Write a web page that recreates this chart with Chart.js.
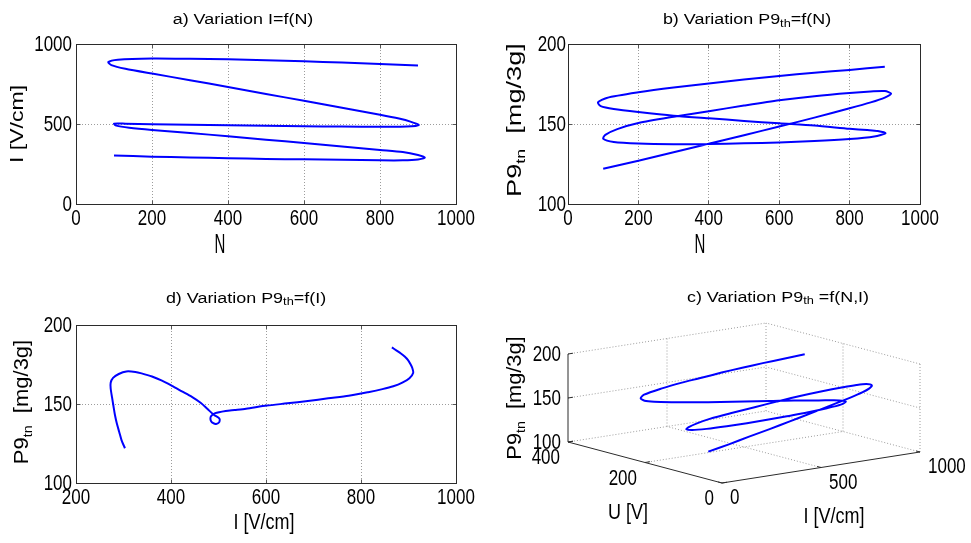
<!DOCTYPE html>
<html>
<head>
<meta charset="utf-8">
<script src="https://cdn.jsdelivr.net/npm/chart.js@4.4.1/dist/chart.umd.min.js"></script>
<style>
  html, body { margin: 0; padding: 0; background: #fff; }
  #wrap { position: relative; width: 971px; height: 543px; overflow: hidden; }
  canvas { position: absolute; }
</style>
</head>
<body>
<div id="wrap">
  <canvas id="chartA" width="485" height="265" style="left:0;top:0"></canvas>
  <canvas id="chartB" width="486" height="265" style="left:485px;top:0"></canvas>
  <canvas id="chartD" width="485" height="273" style="left:0;top:270px"></canvas>
  <canvas id="chartC" width="486" height="273" style="left:485px;top:270px"></canvas>
</div>
<script>
const N = [100, 200, 300, 400, 500, 600, 700, 800, 860, 900, 918, 900,
  860, 800, 700, 600, 500, 400, 300, 200, 140, 106, 100,
  130, 200, 300, 400, 500, 600, 700, 800, 870, 902,
  880, 850, 800, 700, 600, 500, 400, 300, 200, 130, 93, 85,
  110, 200, 300, 400, 500, 600, 700, 800, 900];
const I = [303, 296, 291, 286, 282, 279, 276, 273, 273, 278, 290, 306,
  325, 338, 360, 381, 402, 423, 444, 463, 477, 490, 502,
  502, 499, 495, 492, 489, 486, 484, 483, 484, 493,
  515, 534, 558, 602, 645, 688, 731, 774, 815, 845, 868, 887,
  902, 910, 908, 904, 899, 892, 884, 875, 865];
const P9 = [122, 127, 132.3, 137.6, 143, 148.4, 154, 159.8, 163.5, 166.5, 169, 170.6,
  170.3, 169.4, 167.4, 164.8, 161.5, 158, 154.5, 150.6, 146.8, 143.2, 140.8,
  138.8, 137.8, 137.4, 137.5, 137.9, 138.5, 139.3, 140.6, 142.2, 144.2,
  145.6, 146.2, 147, 149, 150.4, 151.9, 153.6, 155.2, 157.5, 159.4, 161.2, 163.5,
  166.3, 169.8, 172.8, 175.3, 177.8, 180, 182, 183.8, 185.8];
// depth coordinate of the 3D view
const U = [87, 85, 84, 82, 81, 80, 79, 78, 78, 80, 83, 88,
  93, 97, 103, 109, 115, 121, 127, 133, 137, 141, 144,
  144, 143, 142, 141, 140, 140, 139, 139, 139, 142,
  148, 153, 160, 173, 185, 198, 210, 222, 234, 243, 249, 255,
  259, 261, 261, 259, 258, 256, 254, 251, 248];

const nTicks = [0, 200, 400, 600, 800, 1000];
const iTicksA = [0, 500, 1000];
const pTicks = [100, 150, 200];
const iTicksD = [200, 400, 600, 800, 1000];
const iTicks3 = [0, 500, 1000];
const uTicks3 = [0, 200, 400];
const pTicks3 = [100, 150, 200];

const BLUE = '#0000ff';
const FAMILY = '"Liberation Sans", Arial, sans-serif';
const TICK_FONT = '17px ' + FAMILY;
const TICK_SY = 1.3;   // tick numbers are drawn tall and narrow in the original

function align(p) { return Math.round(p - 0.5) + 0.5; }

function tickText(ctx, txt, x, y, textAlign) {
  ctx.save();
  ctx.translate(x, y);
  ctx.scale(1, TICK_SY);
  ctx.font = TICK_FONT;
  ctx.fillStyle = '#000';
  ctx.textAlign = textAlign;
  ctx.textBaseline = 'middle';
  ctx.fillText(txt, 0, 0);
  ctx.restore();
}

// matlab style box with inward tick marks and tick numbers
function boxPlugin(yPad) {
  return {
    id: 'matlabBox',
    afterDraw(chart) {
      const { ctx, chartArea: a, scales } = chart;
      const L = align(a.left), R = align(a.right), T = align(a.top), B = align(a.bottom);
      ctx.save();
      ctx.setLineDash([]);
      ctx.lineWidth = 1;
      ctx.strokeStyle = '#555';
      ctx.beginPath();
      scales.x.ticks.forEach(t => {
        const x = align(scales.x.getPixelForValue(t.value));
        ctx.moveTo(x, B); ctx.lineTo(x, B - 4);
        ctx.moveTo(x, T); ctx.lineTo(x, T + 4);
      });
      scales.y.ticks.forEach(t => {
        const y = align(scales.y.getPixelForValue(t.value));
        ctx.moveTo(L, y); ctx.lineTo(L + 4, y);
        ctx.moveTo(R, y); ctx.lineTo(R - 4, y);
      });
      ctx.stroke();
      ctx.strokeStyle = '#2b2b2b';
      ctx.strokeRect(L, T, R - L, B - T);
      ctx.restore();
      scales.x.ticks.forEach(t => tickText(ctx, String(t.value), scales.x.getPixelForValue(t.value), a.bottom + 15, 'center'));
      scales.y.ticks.forEach(t => tickText(ctx, String(t.value), a.left - yPad, scales.y.getPixelForValue(t.value) + 1, 'right'));
    }
  };
}

function drawLabel(ctx, it) {
  ctx.save();
  ctx.translate(it.x, it.y);
  if (it.rot) ctx.rotate(it.rot);
  ctx.scale(it.sx || 1, it.sy || 1);
  ctx.fillStyle = '#000';
  ctx.textBaseline = 'alphabetic';
  ctx.textAlign = 'left';
  let w = 0;
  const widths = it.runs.map(r => {
    ctx.font = r[1] + 'px ' + FAMILY;
    const m = ctx.measureText(r[0]).width;
    w += m;
    return m;
  });
  let x = -w / 2;
  it.runs.forEach((r, k) => {
    ctx.font = r[1] + 'px ' + FAMILY;
    ctx.fillText(r[0], x, r[2] || 0);
    x += widths[k];
  });
  ctx.restore();
}

function textPlugin(items) {
  return {
    id: 'texts',
    afterDraw(chart) { items.forEach(it => drawLabel(chart.ctx, it)); }
  };
}

function axis(ticks, fit) {
  return {
    type: 'linear',
    min: ticks[0],
    max: ticks[ticks.length - 1],
    afterBuildTicks: s => { s.ticks = ticks.map(v => ({ value: v })); },
    afterFit: fit,
    ticks: { display: false, autoSkip: false },
    grid: { color: '#9c9c9c', lineWidth: 1, drawTicks: false },
    border: { display: false, dash: [1, 2] }
  };
}

// box = canvas [x, y, w, h], area = plot [left, top, right, bottom] in page px
function panel(id, box, area, xs, ys, xTicks, yTicks, yPad, labels) {
  const pts = xs.map((v, k) => ({ x: v, y: ys[k] }));
  return new Chart(document.getElementById(id), {
    type: 'scatter',
    data: {
      datasets: [{
        data: pts, showLine: true, pointRadius: 0,
        borderColor: BLUE, borderWidth: 2, tension: 0.25
      }]
    },
    options: {
      responsive: false, animation: false, devicePixelRatio: 1, events: [],
      layout: { padding: { left: 0, bottom: 0, top: area[1] - box[1], right: box[0] + box[2] - area[2] } },
      plugins: { legend: { display: false }, tooltip: { enabled: false } },
      scales: {
        x: axis(xTicks, s => { s.height = box[1] + box[3] - area[3]; s.paddingLeft = 0; s.paddingRight = 0; }),
        y: axis(yTicks, s => { s.width = area[0] - box[0]; s.paddingTop = 0; s.paddingBottom = 0; })
      }
    },
    plugins: [boxPlugin(yPad), textPlugin(labels)]
  });
}

const UP = -Math.PI / 2;
const p9Label = (x, y, sx) => ({ runs: [['P9', 20], ['tn', 13, 4], ['  [mg/3g]', 20]], x, y, rot: UP, sx });

panel('chartA', [0, 0, 485, 265], [76, 44, 456, 204], N, I, nTicks, iTicksA, 4, [
  { runs: [['a) Variation I=f(N)', 14]], x: 243, y: 24, sx: 1.28 },
  { runs: [['N', 20]], x: 220, y: 252.5, sx: 0.75, sy: 1.35 },
  { runs: [['I [V/cm]', 18]], x: 23, y: 124, rot: UP, sx: 1.28 }
]);

panel('chartB', [485, 0, 486, 265], [568, 44, 920, 204], N, P9, nTicks, pTicks, 2, [
  { runs: [['b) Variation P9', 14], ['th', 10, 2.5], ['=f(N)', 14]], x: 262, y: 24, sx: 1.28 },
  { runs: [['N', 20]], x: 215, y: 252.5, sx: 0.75, sy: 1.35 },
  p9Label(36, 120, 1.36)
]);

panel('chartD', [0, 270, 485, 273], [76, 325, 456, 483], I, P9, iTicksD, pTicks, 4, [
  { runs: [['d) Variation P9', 14], ['th', 10, 2.5], ['=f(I)', 14]], x: 246, y: 32.7, sx: 1.28 },
  { runs: [['I [V/cm]', 18]], x: 264, y: 258.5, sy: 1.2 },
  p9Label(28, 132, 1.1)
]);

// 3D view: pixel vectors of the full I, U and P9 ranges from the front corner
const V3 = { o: [237, 213], i: [198, -31], u: [-154, -41], z: [0, -88] };
const R3 = { i: [iTicks3[0], iTicks3[iTicks3.length - 1]], u: [uTicks3[0], uTicks3[uTicks3.length - 1]], z: [pTicks3[0], pTicks3[pTicks3.length - 1]] };
function proj(i, u, z) {
  const fi = (i - R3.i[0]) / (R3.i[1] - R3.i[0]);
  const fu = (u - R3.u[0]) / (R3.u[1] - R3.u[0]);
  const fz = (z - R3.z[0]) / (R3.z[1] - R3.z[0]);
  return {
    x: V3.o[0] + fi * V3.i[0] + fu * V3.u[0] + fz * V3.z[0],
    y: V3.o[1] + fi * V3.i[1] + fu * V3.u[1] + fz * V3.z[1]
  };
}

const cubePlugin = {
  id: 'cube',
  beforeDatasetsDraw(chart) {
    const { ctx, scales } = chart;
    const px = p => [scales.x.getPixelForValue(p.x), scales.y.getPixelForValue(p.y)];
    const seg = (a, b) => {
      const p = px(proj(...a)), q = px(proj(...b));
      ctx.moveTo(p[0], p[1]); ctx.lineTo(q[0], q[1]);
    };
    const [i0, i1] = R3.i, [u0, u1] = R3.u, [z0, z1] = R3.z;
    ctx.save();
    ctx.lineWidth = 1;
    ctx.strokeStyle = '#9c9c9c';
    ctx.setLineDash([1, 2]);
    ctx.beginPath();
    iTicks3.slice(1).forEach(i => { seg([i, u1, z0], [i, u1, z1]); seg([i, u0, z0], [i, u1, z0]); });
    pTicks3.slice(1).forEach(z => { seg([i0, u1, z], [i1, u1, z]); seg([i1, u0, z], [i1, u1, z]); });
    uTicks3.slice(0, -1).forEach(u => { seg([i1, u, z0], [i1, u, z1]); });
    uTicks3.slice(1).forEach(u => { seg([i0, u, z0], [i1, u, z0]); });
    ctx.stroke();
    ctx.setLineDash([]);
    ctx.strokeStyle = '#2b2b2b';
    ctx.beginPath();
    seg([i0, u1, z0], [i0, u1, z1]);
    seg([i0, u0, z0], [i0, u1, z0]);
    seg([i0, u0, z0], [i1, u0, z0]);
    pTicks3.forEach(z => seg([i0, u1, z], [i0 + 25, u1, z]));
    uTicks3.forEach(u => seg([i0, u, z0], [i0 + 25, u, z0]));
    iTicks3.forEach(i => seg([i, u0, z0], [i, u0 + 10, z0]));
    ctx.stroke();
    ctx.restore();

    pTicks3.forEach(z => { const p = px(proj(i0, u1, z)); tickText(ctx, String(z), p[0] - 7, p[1] + 1, 'right'); });
    uTicks3.forEach(u => { const p = px(proj(i0, u, z0)); tickText(ctx, String(u), p[0] - 8, p[1] + 16, 'right'); });
    iTicks3.forEach(i => { const p = px(proj(i, u0, z0)); tickText(ctx, String(i), p[0] + 8, p[1] + 15, 'left'); });
  }
};

new Chart(document.getElementById('chartC'), {
  type: 'scatter',
  data: {
    datasets: [{
      data: N.map((v, k) => proj(v, U[k], P9[k])),
      showLine: true, pointRadius: 0, borderColor: BLUE, borderWidth: 2, tension: 0.25
    }]
  },
  options: {
    responsive: false, animation: false, devicePixelRatio: 1, events: [],
    layout: { padding: 0 },
    plugins: { legend: { display: false }, tooltip: { enabled: false } },
    scales: {
      x: { type: 'linear', display: false, min: 0, max: 486 },
      y: { type: 'linear', display: false, min: 0, max: 273, reverse: true }
    }
  },
  plugins: [cubePlugin, textPlugin([
    { runs: [['c) Variation P9', 14], ['th', 10, 2.5], [' =f(N,I)', 14]], x: 293, y: 31.7, sx: 1.28 },
    { runs: [['U [V]', 18]], x: 143, y: 248.5, sy: 1.2 },
    { runs: [['I [V/cm]', 18]], x: 349, y: 252.5, sy: 1.2 },
    p9Label(36, 128, 1.09)
  ])]
});
</script>
</body>
</html>
